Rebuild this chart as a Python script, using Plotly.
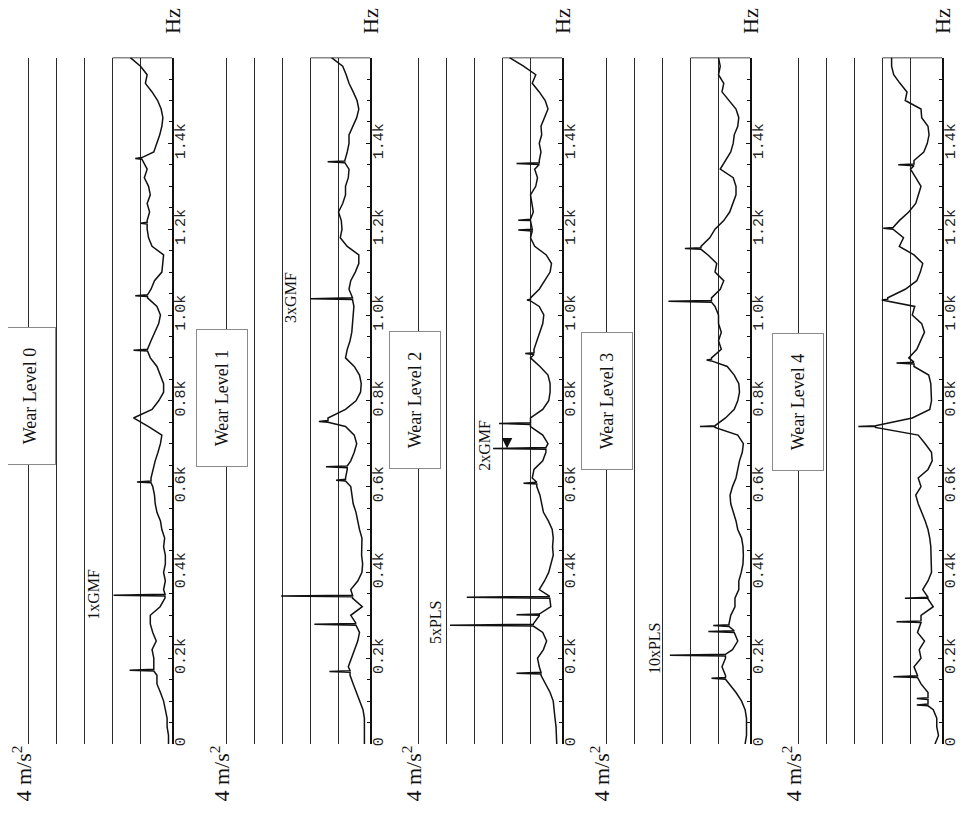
import plotly.graph_objects as go

# ---------------- data ----------------
FREQ_HZ = list(range(0, 1601, 20))  # frequency bins, Hz

AMP_W0 = [0.0, 0.0, 0.04, 0.04, 0.09, 0.14, 0.23, 0.33, 0.33, 0.42,
          0.42, 0.47, 0.35, 0.45, 0.52, 0.52, 0.24, 0.1, 0.14, 0.09,
          0.14, 0.09, 0.09, 0.14, 0.11, 0.19, 0.23, 0.33, 0.38, 0.4,
          0.45, 0.5, 0.45, 0.38, 0.3, 0.23, 0.19, 0.57, 1.0, 0.47,
          0.28, 0.14, 0.14, 0.23, 0.33, 0.52, 0.6, 0.5, 0.38, 0.28,
          0.23, 0.33, 0.6, 0.5, 0.4, 0.19, 0.16, 0.14, 0.47, 0.57,
          0.61, 0.61, 0.54, 0.61, 0.52, 0.57, 0.69, 0.61, 0.76, 0.42,
          0.33, 0.25, 0.19, 0.16, 0.21, 0.31, 0.47, 0.66, 0.61, 0.8,
          1.09]
AMP_W1 = [0.06, 0.06, 0.06, 0.06, 0.1, 0.2, 0.3, 0.38, 0.47, 0.52,
          0.43, 0.35, 0.25, 0.2, 0.3, 0.45, 0.12, 0.4, 0.45, 0.25,
          0.13, 0.11, 0.14, 0.14, 0.13, 0.2, 0.25, 0.3, 0.38, 0.42,
          0.45, 0.6, 0.55, 0.45, 0.35, 0.28, 0.35, 0.6, 1.1, 0.6,
          0.3, 0.17, 0.15, 0.2, 0.35, 0.6, 0.55, 0.47, 0.42, 0.4,
          0.38, 0.36, 0.4, 0.5, 0.45, 0.32, 0.22, 0.22, 0.55, 0.75,
          0.7, 0.72, 0.8, 0.68, 0.6, 0.6, 0.52, 0.5, 0.62, 0.55,
          0.5, 0.5, 0.38, 0.28, 0.22, 0.27, 0.38, 0.5, 0.58, 0.68,
          1.0]
AMP_W2 = [0.05, 0.05, 0.07, 0.1, 0.12, 0.15, 0.24, 0.38, 0.5, 0.55,
          0.6, 0.43, 0.34, 0.45, 0.72, 0.55, 0.22, 0.25, 0.55, 0.4,
          0.28, 0.22, 0.15, 0.17, 0.15, 0.18, 0.29, 0.43, 0.47, 0.53,
          0.62, 0.75, 0.7, 0.45, 0.36, 0.3, 0.45, 0.8, 0.8, 0.45,
          0.28, 0.24, 0.24, 0.3, 0.53, 0.8, 0.7, 0.62, 0.55, 0.45,
          0.42, 0.55, 0.8, 0.55, 0.4, 0.24, 0.2, 0.35, 0.68, 0.8,
          0.75, 0.8, 0.72, 0.75, 0.8, 0.65, 0.6, 0.68, 0.55, 0.5,
          0.55, 0.48, 0.5, 0.4, 0.3, 0.38, 0.55, 0.75, 0.65, 1.0,
          1.4]
AMP_W3 = [0.04, 0.0, 0.0, 0.0, 0.04, 0.14, 0.3, 0.48, 0.6, 0.7,
          0.6, 0.4, 0.25, 0.35, 0.5, 0.45, 0.33, 0.33, 0.22, 0.22,
          0.15, 0.1, 0.09, 0.1, 0.14, 0.25, 0.3, 0.38, 0.45, 0.47,
          0.4, 0.3, 0.25, 0.2, 0.12, 0.09, 0.25, 0.9, 0.6, 0.35,
          0.25, 0.2, 0.22, 0.35, 0.55, 1.0, 0.72, 0.8, 0.72, 0.8,
          0.8, 0.9, 1.0, 0.75, 0.65, 0.9, 0.85, 1.1, 1.3, 1.05,
          0.9, 0.65, 0.48, 0.38, 0.3, 0.3, 0.38, 0.75, 0.6, 0.45,
          0.38, 0.35, 0.25, 0.22, 0.3, 0.5, 0.7, 0.65, 0.8, 0.75,
          0.8]
AMP_W4 = [0.1, 0.0, 0.05, 0.05, 0.15, 0.3, 0.3, 0.5, 0.6, 0.7,
          0.5, 0.55, 0.4, 0.6, 0.5, 0.5, 0.15, 0.3, 0.45, 0.3,
          0.2, 0.2, 0.2, 0.22, 0.25, 0.3, 0.38, 0.48, 0.58, 0.65,
          0.5, 0.58, 0.3, 0.18, 0.2, 0.38, 0.58, 1.8, 0.75, 0.25,
          0.2, 0.2, 0.22, 0.28, 0.7, 0.85, 0.62, 0.5, 0.4, 0.48,
          0.75, 0.68, 1.45, 0.95, 0.62, 0.52, 0.45, 0.7, 1.12, 1.0,
          1.3, 1.12, 0.85, 0.65, 0.57, 0.5, 0.65, 0.8, 0.7, 0.42,
          0.32, 0.27, 0.3, 0.48, 0.5, 0.95, 0.9, 1.1, 1.28, 1.34,
          1.34]

SPIKE_F_W0 = [172, 347, 611, 918, 1045, 1214, 1365]
SPIKE_A_W0 = [1.11, 1.57, 0.9, 1.0, 0.95, 0.8, 0.95]
SPIKE_F_W1 = [169, 279, 345, 615, 646, 752, 1038, 1357]
SPIKE_A_W1 = [1.06, 1.49, 2.44, 0.87, 1.16, 1.36, 1.6, 1.11]
SPIKE_F_W2 = [165, 277, 301, 342, 608, 689, 747, 910, 1035, 1198, 1221, 1353]
SPIKE_A_W2 = [1.2, 3.1, 1.2, 2.62, 1.0, 1.87, 1.7, 0.95, 0.9, 1.15, 1.15, 1.2]
SPIKE_F_W3 = [153, 207, 262, 276, 740, 895, 1032, 1155]
SPIKE_A_W3 = [1.0, 2.19, 1.09, 0.95, 1.33, 1.14, 2.23, 1.76]
SPIKE_F_W4 = [91, 106, 157, 285, 340, 740, 888, 1035, 1202, 1350]
SPIKE_A_W4 = [0.62, 0.62, 1.29, 1.2, 0.96, 2.29, 1.2, 1.62, 1.58, 1.15]

PANEL_TITLES = ["Wear Level 0", "Wear Level 1", "Wear Level 2", "Wear Level 3", "Wear Level 4"]
FREQ_TICK_VALS = [0, 200, 400, 600, 800, 1000, 1200, 1400]
FREQ_TICK_TEXT = ["0", "0.2k", "0.4k", "0.6k", "0.8k", "1.0k", "1.2k", "1.4k"]
AMP_GRID_VALS = [0.8, 1.6, 2.4, 3.2, 4.0]   # m/s^2

# peak labels: (panel, text, amplitude, frequency)
PEAK_LABEL_PANEL = [0, 1, 2, 2, 3]
PEAK_LABEL_TEXT = ["1xGMF", "3xGMF", "5xPLS", "2xGMF", "10xPLS"]
PEAK_LABEL_AMP = [2.13, 2.16, 3.53, 2.1, 2.61]
PEAK_LABEL_FREQ = [350, 1042, 284, 695, 224]

AMPS = [AMP_W0, AMP_W1, AMP_W2, AMP_W3, AMP_W4]
SPF = [SPIKE_F_W0, SPIKE_F_W1, SPIKE_F_W2, SPIKE_F_W3, SPIKE_F_W4]
SPA = [SPIKE_A_W0, SPIKE_A_W1, SPIKE_A_W2, SPIKE_A_W3, SPIKE_A_W4]

# ---------------- layout geometry (page pixels) ----------------
OFF = 8                       # default page body margin
FW, FH = 965 - OFF, 830 - OFF
AXIS_PX = [172, 370, 562, 750, 942]        # frequency axis line of each panel
PX_PER_UNIT = 35.0
A_RIGHT = -0.1
PANEL_W = 150
Y_BOT_PX, Y_TOP_PX = 744, 57.6
BOX_CX = [30, 222, 415, 607, 798]
BOX_CY = [396, 398, 400, 401, 402]

SERIF = "Liberation Serif, Times New Roman, serif"
MONO = "Liberation Mono, DejaVu Sans Mono, monospace"


def px_x(p):
    return (p - OFF) / FW


def px_y(p):
    return 1 - (p - OFF) / FH


def build_trace(amp, sf, sa):
    pts = list(zip(FREQ_HZ, amp))
    for f, a in zip(sf, sa):
        base = amp[int(round(f / 20.0))]
        pts += [(f - 2, base), (f, a), (f + 2, base)]
    pts.sort(key=lambda p: p[0])
    return [p[1] for p in pts], [p[0] for p in pts]


fig = go.Figure()
layout = dict(width=FW, height=FH, margin=dict(l=0, r=0, t=0, b=0, autoexpand=False),
              paper_bgcolor="white", plot_bgcolor="white", showlegend=False)

annotations = []
shapes = []
for i in range(5):
    xs, ys = build_trace(AMPS[i], SPF[i], SPA[i])
    xa = "x" if i == 0 else f"x{i+1}"
    ya = "y" if i == 0 else f"y{i+1}"
    fig.add_trace(go.Scatter(x=xs, y=ys, mode="lines", xaxis=xa, yaxis=ya,
                             line=dict(color="#111111", width=1.5),
                             cliponaxis=False, hoverinfo="skip"))
    ax_px = AXIS_PX[i]
    a_left = A_RIGHT + PANEL_W / PX_PER_UNIT
    layout["xaxis" if i == 0 else f"xaxis{i+1}"] = dict(
        domain=[px_x(ax_px - PANEL_W), px_x(ax_px)], range=[a_left, A_RIGHT],
        anchor=ya, tickmode="array", tickvals=AMP_GRID_VALS, showticklabels=False,
        ticks="", showgrid=True, gridcolor="#2a2a2a", gridwidth=1,
        zeroline=False, showline=False, fixedrange=True)
    layout["yaxis" if i == 0 else f"yaxis{i+1}"] = dict(
        domain=[px_y(Y_BOT_PX), px_y(Y_TOP_PX)], range=[0, 1600],
        anchor=xa, side="right", showline=True, linecolor="#111111", linewidth=1.5,
        tickmode="array", tickvals=FREQ_TICK_VALS, ticktext=FREQ_TICK_TEXT,
        ticks="inside", ticklen=4, tickcolor="#111111", tickangle=-90,
        ticklabelstandoff=-7,
        tickfont=dict(family=MONO, size=15, color="#222222"),
        minor=dict(tickmode="linear", tick0=0, dtick=50, ticks="inside",
                   ticklen=3, tickcolor="#111111", showgrid=False),
        showgrid=False, zeroline=False, fixedrange=True, automargin=False)
    # top frame line
    shapes.append(dict(type="line", xref=xa, yref=ya, x0=A_RIGHT, x1=AMP_GRID_VALS[1],
                       y0=1600, y1=1600, line=dict(color="#111111", width=1.3)))
    # "Hz" label
    annotations.append(dict(text="Hz", xref="paper", yref="paper", x=px_x(ax_px), y=px_y(21),
                            showarrow=False, textangle=-90, xanchor="center", yanchor="middle",
                            font=dict(family=SERIF, size=22, color="#111111")))
    # "4 m/s2" label
    grid_left_px = ax_px - (AMP_GRID_VALS[-1] - A_RIGHT) * PX_PER_UNIT
    annotations.append(dict(text="4 m/s<sup>2</sup>", xref="paper", yref="paper",
                            x=px_x(grid_left_px - 7), y=px_y(774),
                            showarrow=False, textangle=-90, xanchor="center", yanchor="middle",
                            font=dict(family=SERIF, size=22, color="#111111")))
    # Wear level box
    annotations.append(dict(text=PANEL_TITLES[i], xref="paper", yref="paper",
                            x=px_x(BOX_CX[i]), y=px_y(BOX_CY[i]), showarrow=False,
                            textangle=-90, xanchor="center", yanchor="middle",
                            width=136, height=50, bgcolor="white", bordercolor="#8a8a8a",
                            borderwidth=1, borderpad=0,
                            font=dict(family=SERIF, size=18, color="#111111")))

for p, t, a, f in zip(PEAK_LABEL_PANEL, PEAK_LABEL_TEXT, PEAK_LABEL_AMP, PEAK_LABEL_FREQ):
    xa = "x" if p == 0 else f"x{p+1}"
    ya = "y" if p == 0 else f"y{p+1}"
    annotations.append(dict(text=t, xref=xa, yref=ya, x=a, y=f, showarrow=False,
                            textangle=-90, xanchor="center", yanchor="middle",
                            font=dict(family=SERIF, size=16, color="#111111")))

# arrow marking 2xGMF
annotations.append(dict(text=" ", xref="x3", yref="y3", x=1.47, y=689, showarrow=True,
                        ax=0, ay=-14, arrowhead=2, arrowsize=1.4, arrowwidth=1.5,
                        arrowcolor="#111111"))

layout["annotations"] = annotations
layout["shapes"] = shapes
fig.update_layout(**layout)
fig.write_html("out.html")
